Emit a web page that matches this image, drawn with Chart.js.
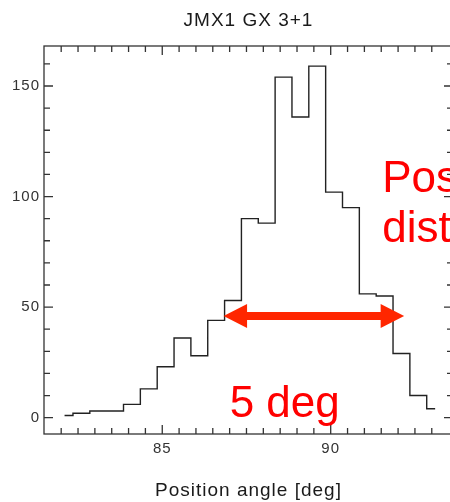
<!DOCTYPE html>
<html><head><meta charset="utf-8">
<script src="https://cdn.jsdelivr.net/npm/chart.js@4/dist/chart.umd.min.js"></script>
<style>html,body{margin:0;padding:0;overflow:hidden;background:#fff;width:450px;height:502px}canvas{display:block}</style>
</head><body>
<canvas id="c" width="460" height="502"></canvas>
<script>
// ---- data ----
const chartTitle = 'JMX1 GX 3+1';
const xAxisTitle = 'Position angle [deg]';
const binCenters = [82.1,82.6,83.1,83.6,84.1,84.6,85.1,85.6,86.1,86.6,87.1,87.6,88.1,88.6,89.1,89.6,90.1,90.6,91.1,91.6,92.1,92.6,93.1];
const counts     = [1,2,3,3,6,13,23,36,28,44,53,90,88,154,136,159,102,95,56,55,29,10,4];
const xMajorTicks = [85, 90];
const yMajorTicks = [0, 50, 100, 150];
const xRange = [81.49, 93.63];
const yRange = [-7.4, 168.1];
// annotations (data coordinates)
const arrowSpan = [86.82, 92.18];
const arrowLevel = 46;
const noteTexts = ['5 deg', 'Pos', 'dist'];
const noteX = [87.0, 91.53, 91.53];
const noteY = [0.4, 102, 79.5];

const FONT = "'Liberation Sans', Arial, Helvetica, sans-serif";
Chart.defaults.font.family = FONT;

const spacing = {
  id: 'spacing',
  beforeLayout(c) { c.ctx.letterSpacing = '1px'; },
  afterLayout(c) {
    // centre the title over the plot frame, as in the reference
    if (c.titleBlock) { c.titleBlock.left = c.chartArea.left; c.titleBlock.right = c.chartArea.right; }
  },
  beforeDraw(c) { c.ctx.letterSpacing = '1px'; }
};

const frame = {
  id: 'frame',
  beforeDatasetsDraw(chart) {
    const {ctx, chartArea: a, scales: {x, y}} = chart;
    ctx.save();
    ctx.strokeStyle = '#333';
    ctx.lineWidth = 1.3;
    ctx.strokeRect(a.left, a.top, a.right - a.left, a.bottom - a.top);
    ctx.beginPath();
    for (let i = 0; i <= 22; i++) {
      const v = 82 + 0.5 * i;
      const px = x.getPixelForValue(v);
      const len = xMajorTicks.includes(v) ? 9 : 6;
      ctx.moveTo(px, a.bottom); ctx.lineTo(px, a.bottom - len);
      ctx.moveTo(px, a.top); ctx.lineTo(px, a.top + len);
    }
    for (let i = 0; i <= 16; i++) {
      const v = 10 * i;
      const py = y.getPixelForValue(v);
      const len = yMajorTicks.includes(v) ? 9 : 6;
      ctx.moveTo(a.left, py); ctx.lineTo(a.left + len, py);
      ctx.moveTo(a.right, py); ctx.lineTo(a.right - len, py);
    }
    ctx.stroke();
    ctx.restore();
  },
  afterDatasetsDraw(chart) {
    const {ctx, scales: {x, y}} = chart;
    ctx.save();
    ctx.letterSpacing = '0px';
    const x1 = x.getPixelForValue(arrowSpan[0]);
    const x2 = x.getPixelForValue(arrowSpan[1]);
    const yy = y.getPixelForValue(arrowLevel);
    const hl = 23.5, hw = 12, sw = 4;
    ctx.fillStyle = '#ff2600';
    ctx.beginPath();
    ctx.moveTo(x1, yy);
    ctx.lineTo(x1 + hl, yy - hw); ctx.lineTo(x1 + hl, yy - sw);
    ctx.lineTo(x2 - hl, yy - sw); ctx.lineTo(x2 - hl, yy - hw);
    ctx.lineTo(x2, yy);
    ctx.lineTo(x2 - hl, yy + hw); ctx.lineTo(x2 - hl, yy + sw);
    ctx.lineTo(x1 + hl, yy + sw); ctx.lineTo(x1 + hl, yy + hw);
    ctx.closePath();
    ctx.fill();
    ctx.fillStyle = '#ff0000';
    ctx.font = "44px " + FONT;
    ctx.textAlign = 'left';
    ctx.textBaseline = 'alphabetic';
    noteTexts.forEach((t, i) => {
      ctx.fillText(t, x.getPixelForValue(noteX[i]), y.getPixelForValue(noteY[i]));
    });
    ctx.restore();
  }
};

new Chart(document.getElementById('c'), {
  type: 'line',
  data: {
    datasets: [{
      data: binCenters.map((v, i) => ({x: v, y: counts[i]})),
      stepped: 'middle',
      borderColor: '#222',
      borderWidth: 1.4,
      pointRadius: 0,
      fill: false
    }]
  },
  options: {
    responsive: false,
    animation: false,
    layout: {padding: {left: 0, right: 7, top: 0, bottom: 0}},
    plugins: {
      legend: {display: false},
      tooltip: {enabled: false},
      title: {
        display: true, text: chartTitle, color: '#1a1a1a',
        font: {size: 19, weight: 'normal'},
        padding: {top: 9.5, bottom: 13.7}
      }
    },
    scales: {
      x: {
        type: 'linear', min: xRange[0], max: xRange[1],
        grid: {display: false, drawTicks: false},
        border: {display: false},
        afterBuildTicks: s => { s.ticks = xMajorTicks.map(v => ({value: v})); },
        afterFit: s => { s.height = 68; },
        ticks: {color: '#333', font: {size: 15}, padding: 5.4, maxRotation: 0},
        title: {display: true, text: xAxisTitle, color: '#1a1a1a', font: {size: 19}, padding: {top: 0, bottom: 0}}
      },
      y: {
        type: 'linear', min: yRange[0], max: yRange[1],
        grid: {display: false, drawTicks: false},
        border: {display: false},
        afterBuildTicks: s => { s.ticks = yMajorTicks.map(v => ({value: v})); },
        afterFit: s => { s.width = 44; },
        ticks: {color: '#333', font: {size: 15}, padding: 4}
      }
    }
  },
  plugins: [spacing, frame]
});
</script>
</body></html>
